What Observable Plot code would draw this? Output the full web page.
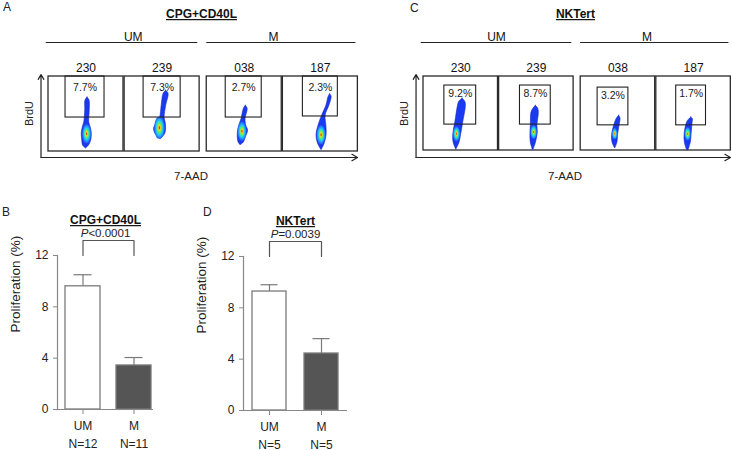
<!DOCTYPE html>
<html><head><meta charset="utf-8">
<script src="https://cdn.jsdelivr.net/npm/d3@7"></script>
<script src="https://cdn.jsdelivr.net/npm/@observablehq/plot@0.6"></script>
<style>
body{margin:0;background:#fff;}
#wrap{position:relative;width:732px;height:450px;overflow:hidden;font-family:"Liberation Sans",Arial,sans-serif;color:#222;background:#fff;}
.p{position:absolute;}
.lt{position:absolute;font-size:12px;line-height:1;}
</style></head><body><div id="wrap"></div>
<script>
// ---------- data ----------
const samples = ["230", "239", "038", "187"];
const groups = ["UM", "UM", "M", "M"];
const groupNames = ["UM", "M"];

const cpgPct = ["7.7%", "7.3%", "2.7%", "2.3%"];
const nkPct = ["9.2%", "8.7%", "3.2%", "1.7%"];

// gates: [7-AAD from, 7-AAD to, BrdU from, BrdU to] (0-100 units)
const cpgGates = [[22.7, 74.7, 45.3, 100], [25.3, 74.7, 45.3, 100], [25.3, 73.3, 45.3, 100], [26.7, 73.3, 46.7, 100]];
const nkGates = [[28, 70.7, 35, 87.8], [28, 69.3, 35, 87.8], [22.7, 64, 34, 85], [26.7, 66.7, 34, 87.8]];

// event cloud outlines: [BrdU, 7-AAD centre, half spread]
const cpgBlobs = [
  [[72, 52, 0], [68, 52, 2.7], [55, 52, 3], [39, 51, 3.3], [32, 51, 5.3], [24, 51, 6.7], [15, 51, 6], [8, 50, 4], [4, 50, 0]],
  [[81, 55.3, 0], [77, 55.3, 3.3], [61, 52.4, 3], [45, 50.3, 3], [39, 49.3, 5.3], [31, 47.3, 8], [23, 47.6, 6.3], [16.4, 48, 0]],
  [[61, 52, 0], [57, 52, 2.5], [43, 49, 2.7], [35, 48, 4.5], [27.6, 48.4, 6.7], [18.7, 46.7, 5.3], [12, 46, 3.5], [8.4, 45, 0]],
  [[76.4, 63, 0], [73, 63, 2], [61, 60, 2], [48, 54.7, 2.3], [34, 52.7, 5.3], [22, 51.6, 6.7], [10.7, 51.3, 4.5], [1.7, 51.6, 0]]
];
const cpgCores = [[51.5, 23], [47, 31], [47.6, 26.3], [51.6, 21.7]];
const nkBlobs = [
  [[70, 52.4, 0], [66, 52, 4], [60.4, 51.6, 5.3], [37.8, 48, 5.3], [22, 45.3, 5.3], [10.8, 44.4, 4], [1, 44, 0]],
  [[60.4, 49.3, 0], [56.8, 49.3, 3], [51.4, 48.4, 4.9], [33.4, 47, 4.4], [24.3, 47, 4.9], [10.8, 46, 3.5], [1, 45.7, 0.5]],
  [[47, 51.6, 0], [43, 51, 2.5], [37.8, 49.6, 3.3], [22, 46.3, 4], [10.8, 46, 3.3], [2.7, 46.3, 0]],
  [[44.6, 47, 0], [42, 46.7, 2.5], [37.8, 45, 3.7], [22, 42.7, 4.7], [10.8, 42.3, 4], [0.4, 42.3, 1]]
];
const nkCores = [[45, 22], [47, 24.3], [46.3, 22], [42.7, 22]];

// bar charts
const cats = ["UM", "M"];
const cpgMean = [9.6, 3.43];
const cpgErr = [0.9, 0.62];
const cpgN = ["N=12", "N=11"];
const nkMean = [9.27, 4.44];
const nkErr = [0.53, 1.16];
const nkN = ["N=5", "N=5"];
const yTicks = [0, 4, 8, 12];

// ---------- style ----------
const FONT = '"Liberation Sans", Arial, sans-serif';
const layers = [
  {f: 0.86, color: "#2a72ff"},
  {f: 0.70, color: "#1fb4ff"},
  {f: 0.54, color: "#2ee0c8"},
  {f: 0.40, color: "#7ee848"},
  {f: 0.26, color: "#f0d820"},
  {f: 0.13, color: "#e64010"}
];
const wrap = document.getElementById("wrap");
function place(node, left, top) {
  const d = document.createElement("div");
  d.className = "p"; d.style.left = left + "px"; d.style.top = top + "px";
  d.appendChild(node); wrap.appendChild(d);
}
function letter(t, left, top) {
  const d = document.createElement("div");
  d.className = "lt"; d.textContent = t; d.style.left = left + "px"; d.style.top = top + "px";
  wrap.appendChild(d);
}

function flowPanel(cfg) {
  const off = i => i * 1.015 + (groups[i] === "M" ? 0.08 : 0);
  const X = (i, u) => off(i) + u / 100;
  const cells = samples.map((s, i) => ({i, s, gate: cfg.gates[i], pct: cfg.pct[i]}));
  const outer = [];
  cfg.blobs.forEach((b, i) => b.forEach(([v, u, hw]) => outer.push({id: i, v, x1: X(i, u - hw), x2: X(i, u + hw)})));
  const layerMarks = layers.map(L => {
    const rows = [];
    cfg.blobs.forEach((b, i) => {
      const maxhw = d3.max(b, d => d[2]);
      const [cu, cv] = cfg.cores[i];
      const rx = L.f * maxhw, ry = L.f * maxhw * 2.2;
      for (let k = 0; k <= 24; k++) {
        const t = -1 + 2 * k / 24;
        const w = rx * Math.sqrt(Math.max(0, 1 - t * t));
        rows.push({id: i, v: cv + ry * t, x1: X(i, cu - w), x2: X(i, cu + w)});
      }
    });
    return Plot.areaX(rows, {y: "v", x1: "x1", x2: "x2", z: "id", fill: L.color, curve: "linear"});
  });
  const vOf = px => (cfg.yb - px) / cfg.ky * 100;
  const spans = groupNames.map(g => {
    const idx = samples.map((s, i) => i).filter(i => groups[i] === g);
    const a = idx[0], b = idx[idx.length - 1];
    return {g, x1: off(a) - (a === 0 ? 0.03 : 0), x2: off(b) + 1 - 0.025};
  });
  const W = 4.125;
  return Plot.plot({
    width: 366, height: 180, margin: 0,
    style: {fontFamily: FONT, fontSize: "12px", background: "transparent", overflow: "visible", color: "#222"},
    x: {domain: [0, W], range: [cfg.x0, cfg.x0 + W * cfg.kx], axis: null},
    y: {domain: [0, 100], range: [cfg.yb, cfg.yb - cfg.ky], axis: null},
    marks: [
      Plot.rect(cells, {x1: d => off(d.i), x2: d => off(d.i) + 1, y1: 0, y2: 100, fill: "none", stroke: "#2a2a2a", strokeWidth: 1.3}),
      Plot.areaX(outer, {y: "v", x1: "x1", x2: "x2", z: "id", fill: "#1a3af2", stroke: "#1226c0", strokeWidth: 0.6, curve: "catmull-rom"}),
      ...layerMarks,
      Plot.rect(cells, {x1: d => X(d.i, d.gate[0]), x2: d => X(d.i, d.gate[1]), y1: d => d.gate[2], y2: d => d.gate[3], fill: "none", stroke: "#222", strokeWidth: 1.1}),
      Plot.text(cells, {x: d => X(d.i, (d.gate[0] + d.gate[1]) / 2), y: d => d.gate[3], dy: cfg.pctDy, text: "pct", fontSize: 10.5, fill: "#222"}),
      Plot.text(cells, {x: d => off(d.i) + 0.5, frameAnchor: "top", dy: 63, text: "s", fontSize: 12, fill: "#111"}),
      Plot.ruleY(spans, {y: vOf(42), x1: "x1", x2: "x2", stroke: "#222", strokeWidth: 1.2}),
      Plot.text(groupNames, {x: (d, i) => cfg.groupX[i], frameAnchor: "top", dy: 32, text: d => d, fontSize: 12, fill: "#111"}),
      Plot.text([cfg.title], {x: 2.04, frameAnchor: "top", dy: 9, text: d => d, fontSize: 12, fontWeight: "bold", fill: "#111", className: "ttl"}),
      Plot.arrow([0], {x1: -0.1, y1: vOf(157), x2: -0.1, y2: vOf(74), stroke: "#222", strokeWidth: 1.2, headLength: 7}),
      Plot.arrow([0], {x1: -0.1, y1: vOf(157), x2: 4.12, y2: vOf(157), stroke: "#222", strokeWidth: 1.2, headLength: 8}),
      Plot.text(["BrdU"], {x: -0.25, y: vOf(113), rotate: -90, text: d => d, fontSize: 11, fill: "#222"}),
      Plot.text(["7-AAD"], {x: 1.9, frameAnchor: "top", dy: 171, text: d => d, fontSize: 11.5, fill: "#222"})
    ]
  });
}

function barPanel(cfg) {
  const data = cats.map((c, i) => ({c, m: cfg.mean[i], e: cfg.err[i], n: cfg.n[i], f: i === 0 ? "#ffffff" : "#555555"}));
  const pxPerUnit = (250 - cfg.mt - cfg.mb) / 12;
  const top = 12 + 15 / pxPerUnit;
  const bracket = [{c: cats[0], v: 12}, {c: cats[0], v: top}, {c: cats[1], v: top}, {c: cats[1], v: 12}];
  return Plot.plot({
    width: 190, height: 250,
    marginLeft: cfg.ml, marginRight: cfg.mr, marginTop: cfg.mt, marginBottom: cfg.mb,
    style: {fontFamily: FONT, fontSize: "12px", background: "transparent", overflow: "visible", color: "#222"},
    color: {type: "identity"},
    x: {domain: cats, type: "band", paddingInner: cfg.pi, paddingOuter: cfg.po, align: cfg.al, axis: null},
    y: {domain: [0, 12], axis: null},
    marks: [
      Plot.ruleX(data, {x: "c", y1: "m", y2: d => d.m + d.e, stroke: "#7a7a7a", strokeWidth: 1.2}),
      Plot.tickY(data, {x: "c", y: d => d.m + d.e, stroke: "#7a7a7a", strokeWidth: 1.2, insetLeft: 8.5, insetRight: 8.5}),
      Plot.barY(data, {x: "c", y: "m", fill: "f", stroke: "#7a7a7a", strokeWidth: 1.3}),
      Plot.ruleY([0], {stroke: "#888", strokeWidth: 1.2}),
      Plot.frame({anchor: "left", stroke: "#888", strokeWidth: 1.2}),
      Plot.axisY({ticks: yTicks, tickSize: 4, stroke: "#888", fill: "#222", label: null, fontSize: 12}),
      Plot.axisX({tickSize: 5, tickPadding: 7, stroke: "#888", fill: "#222", label: null, fontSize: 12}),
      Plot.text(data, {x: "c", text: "n", frameAnchor: "bottom", dy: 38, fontSize: 12, fill: "#222"}),
      Plot.line(bracket, {x: "c", y: "v", stroke: "#555", strokeWidth: 1.2, strokeLinejoin: "round"}),
      Plot.text([cfg.p], {text: d => d, frameAnchor: "top", dy: -27, fontSize: 11.5, fill: "#222", className: "pval"}),
      Plot.text([cfg.title], {text: d => d, frameAnchor: "top", dy: -40, fontSize: 12, fontWeight: "bold", fill: "#111", className: "ttl"}),
      Plot.text(["Proliferation (%)"], {text: d => d, frameAnchor: "left", rotate: -90, dx: -42, fontSize: 13.5, fill: "#222"})
    ]
  });
}

function finish(svg) {
  d3.select(svg).selectAll(".ttl text").style("text-decoration", "underline");
  d3.select(svg).selectAll(".pval text").each(function () {
    const s = this.textContent;
    const t = d3.select(this);
    t.text(null);
    t.append("tspan").attr("font-style", "italic").text(s.slice(0, 1));
    t.append("tspan").text(s.slice(1));
  });
  return svg;
}

place(finish(flowPanel({title: "CPG+CD40L", gates: cpgGates, pct: cpgPct, blobs: cpgBlobs, cores: cpgCores,
  x0: 48, kx: 75, yb: 151, ky: 75, pctDy: 11, groupX: [1.13, 3.0]})), 0, 0);
place(finish(flowPanel({title: "NKTert", gates: nkGates, pct: nkPct, blobs: nkBlobs, cores: nkCores,
  x0: 57, kx: 74.5, yb: 150, ky: 74, pctDy: 8, groupX: [0.98, 3.0]})), 366, 0);
place(finish(barPanel({title: "CPG+CD40L", p: "P<0.0001", mean: cpgMean, err: cpgErr, n: cpgN,
  ml: 57, mr: 37, mt: 55, mb: 41, pi: 0.32, po: 0.1, al: 0.76})), 0, 200);
place(finish(barPanel({title: "NKTert", p: "P=0.0039", mean: nkMean, err: nkErr, n: nkN,
  ml: 53, mr: 33, mt: 56, mb: 40, pi: 0.337, po: 0.1685, al: 0.514})), 190, 200);

letter("A", 3, 1);
letter("C", 410, 2);
letter("B", 2, 206);
letter("D", 203, 206);
</script></body></html>
